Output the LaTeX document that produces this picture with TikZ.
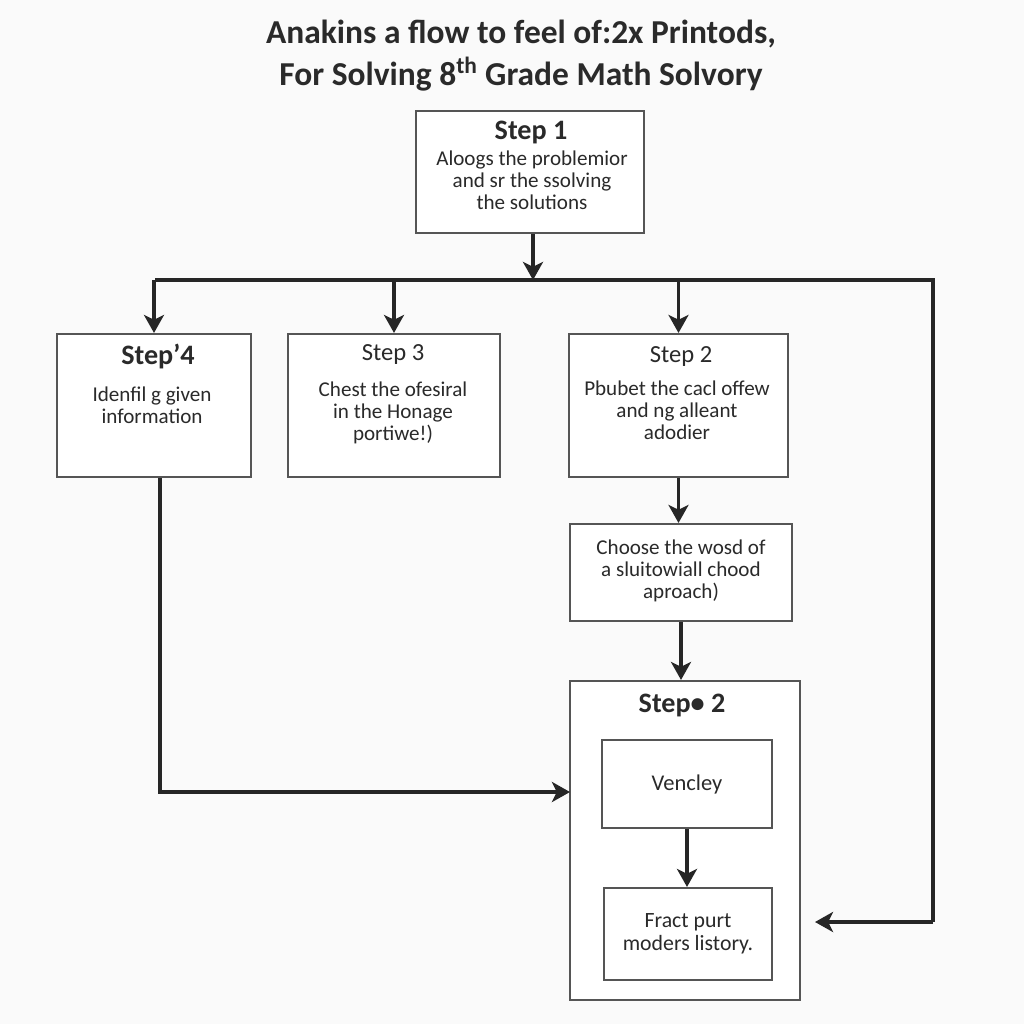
\documentclass[tikz,border=0pt]{standalone}
\usepackage{fontspec}
\setmainfont{Carlito}
\usetikzlibrary{arrows.meta,calc,positioning}
\definecolor{ink}{HTML}{2A2A2A}
\definecolor{edge}{HTML}{555555}
\definecolor{wire}{HTML}{262626}
\definecolor{paper}{HTML}{FAFAFA}

\begin{document}
\begin{tikzpicture}[x=0.25mm,y=-0.25mm,
  font=\fontsize{15}{15.5}\selectfont, text=ink,
  box/.style={draw=edge,line width=1.5pt,fill=white,inner sep=0pt},
  head/.style={font=\bfseries\fontsize{20}{22}\selectfont},
  lighthead/.style={font=\fontsize{17.5}{20}\selectfont},
  body/.style={align=center,font=\fontsize{15}{15.5}\selectfont},
  wireline/.style={draw=wire,line width=2.4pt},
  flow/.style={wireline,-{Stealth[length=4.5mm,width=5mm,inset=1.2mm]}}
]
% pixel grid: 1024 x 1024, y grows downwards
\fill[paper] (0,0) rectangle (1024,1024);
\path[use as bounding box] (0,0) rectangle (1024,1024);

\node[font=\bfseries\fontsize{23.8}{30}\selectfont,align=center] (title) at (521,56)
  {Anakins a flow to feel of:2x Printods,\\For Solving 8\textsuperscript{th} Grade Math Solvory};

% top step
\node[box,minimum width=57mm,minimum height=30.5mm] (s1) at (530,172) {};
\node[head] (s1head) at (531,132) {Step 1};
\node[body] (s1text) at (532,180) {Aloogs the problemior\\and sr the ssolving\\the solutions};

% row of three steps
\node[box,minimum width=48.5mm,minimum height=35.75mm] (s4) at (154,405.5) {};
\node[head] (s4head) at (158,356) {Step’4};
\node[body] (s4text) at (152,405) {Idenfil g given\\information};

\node[box,minimum width=53mm,minimum height=35.75mm] (s3) at (394,405.5) {};
\node[lighthead] (s3head) at (393,354) {Step 3};
\node[body] (s3text) at (393,413) {Chest the ofesiral\\in the Honage\\portiwe!)};

\node[box,minimum width=54.75mm,minimum height=35.75mm] (s2) at (678.5,405.5) {};
\node[lighthead] (s2head) at (681,356) {Step 2};
\node[body] (s2text) at (677,410) {Pbubet the cacl offew\\and ng alleant\\adodier};

\node[box,minimum width=55.5mm,minimum height=24.25mm] (choose) at (681,572.5)
  {\begin{tabular}{@{}c@{}}Choose the wosd of\\a sluitowiall chood\\aproach)\end{tabular}};

% nested block
\node[box,minimum width=57.5mm,minimum height=79.75mm] (outer) at (685,840.5) {};
\node[head] (outerhead) at (682,705) {Step• 2};
\node[box,minimum width=42.5mm,minimum height=22mm,font=\fontsize{16}{17}\selectfont] (vency) at (687,784) {Vencley};
\node[box,minimum width=42mm,minimum height=23mm,align=center,font=\fontsize{15.5}{16}\selectfont] (fract) at (688,934)
  {Fract purt\\moders listory.};

% bus below step 1
\coordinate (bus) at (533,280);
\coordinate (busL) at (155,280);
\coordinate (busR) at (933,280);
\coordinate (loopR) at (933,922);
\coordinate (loopEnd) at (815,922);
\coordinate (meet) at (570,792);

\draw[flow] (s1.south -| bus) -- (bus);
\draw[wireline,line join=miter] (busL) -- (busR) -- (loopR);
\draw[flow] (loopR) -- (loopEnd);
\foreach \n in {s4,s3,s2}{\draw[flow] (\n.north |- busL) -- (\n.north);}

\draw[flow] (s2.south) -- (s2.south |- choose.north);
\draw[flow] (choose.south) -- (choose.south |- outer.north);
\draw[flow] (vency.south) -- (vency.south |- fract.north);
\draw[flow] ([xshift=1.5mm]s4.south) |- (meet);
\end{tikzpicture}
\end{document}
